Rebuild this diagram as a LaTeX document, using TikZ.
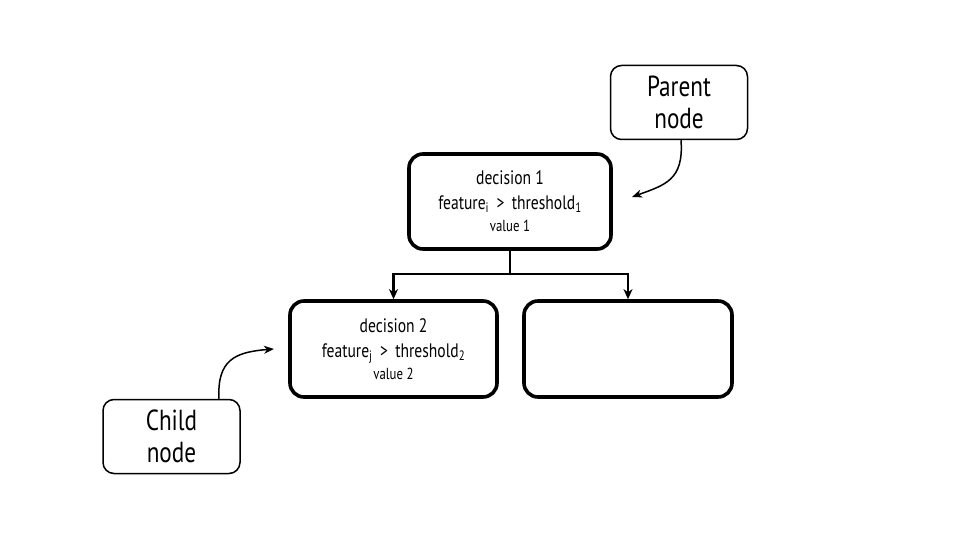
\documentclass[tikz,border=0pt]{standalone}
\usepackage{fontspec}
\setmainfont[FakeStretch=0.8]{PT Sans}
\usetikzlibrary{arrows.meta}
\tikzset{
  decbox/.style={draw, line width=3.6pt, rounded corners=14pt, align=center, inner sep=0pt},
  notebox/.style={draw, line width=1.5pt, rounded corners=11pt, align=center, inner sep=0pt,
    minimum width=137pt, minimum height=74pt, font=\fontsize{29}{32}\selectfont},
  link/.style={line width=2.5pt, -{Stealth[length=10pt,width=9pt,inset=3pt]}},
  pointer/.style={line width=1.5pt, -{Stealth[length=10pt,width=8pt,inset=3pt]}},
  big/.style={font=\fontsize{19.5}{22}\selectfont},
}
\newcommand{\smallline}[1]{{\fontsize{16}{18}\selectfont #1}}
\begin{document}
\begin{tikzpicture}[x=1pt,y=-1pt]
\useasboundingbox (0,0) rectangle (960,540);
\node[decbox, minimum width=202pt, minimum height=95pt, big] (d1) at (510,201.5)
  {decision 1\\[3pt] feature\textsubscript{i} \,>\, threshold\textsubscript{1}\\[0pt] \smallline{value 1}};
\node[decbox, minimum width=207pt, minimum height=96pt, big] (d2) at (393.5,349)
  {decision 2\\[3pt] feature\textsubscript{j} \,>\, threshold\textsubscript{2}\\[0pt] \smallline{value 2}};
\node[decbox, minimum width=208pt, minimum height=96pt] (d3) at (628,349) {};
\node[notebox] (parent) at (679,102.5) {Parent\\node};
\node[notebox] (child) at (171.5,436.5) {Child\\node};
\coordinate (split) at (510,274);
\coordinate (ptip) at (632,197);
\coordinate (ctip) at (274,349);
\draw[line width=2.5pt] (d1.south) -- (split);
\draw[link] (split) -| (d2.north);
\draw[link] (split) -| (d3.north);
\draw[pointer] (parent.south) ++(2,0) .. controls (684,180) and (665,185) .. (ptip);
\draw[pointer] (child.north) ++(47.5,0) .. controls (217,360) and (235,352) .. (ctip);
\end{tikzpicture}
\end{document}
